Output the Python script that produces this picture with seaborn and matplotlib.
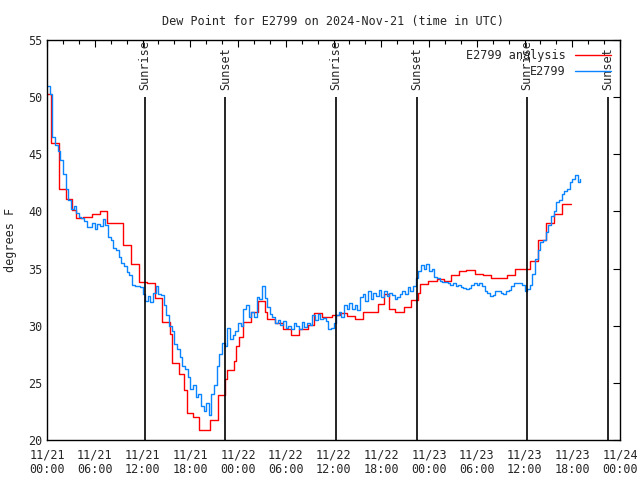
import pandas as pd
import matplotlib
matplotlib.use('Agg')
import matplotlib.pyplot as plt
import matplotlib.dates as mdates
import seaborn as sns

# Observed dew point (deg F), one reading every 20 minutes from 2024-11-21 00:00 UTC
obs_vals = [
    51.0, 50.3, 46.5, 45.8, 45.3, 44.5, 43.3, 42.0, 41.0, 40.2, 40.5, 39.9, 39.5, 39.4, 39.2,
    38.6, 38.6, 39.0, 38.5, 38.9, 38.7, 39.3, 38.8, 37.8, 37.5, 36.8, 36.6, 36.0, 35.5, 35.2,
    34.7, 34.4, 33.6, 33.5, 33.5, 33.4, 32.8, 32.2, 32.6, 32.1, 32.9,
    33.5, 32.8, 32.7, 31.8, 30.9, 30.0, 29.5, 28.4, 28.0, 27.3, 26.5, 26.2, 25.5, 24.5, 24.8,
    23.8, 24.0, 23.0, 22.5, 23.2, 22.2, 24.0, 24.8, 26.5, 27.5, 28.5, 28.2, 29.8, 28.8, 29.2,
    29.5, 30.2, 30.0, 31.5,
    31.8, 30.8, 31.2, 30.8, 32.5, 32.3, 33.5, 32.4, 31.6, 31.0, 30.8, 30.2, 30.5, 30.1, 30.4,
    29.8, 30.0, 29.7, 30.2, 30.0, 29.7, 30.3, 29.9, 30.2, 30.1, 30.9, 30.5, 31.0, 30.6, 30.7,
    30.4, 29.7, 29.8, 30.2, 30.9, 31.2, 30.8, 31.8, 31.5, 32.0,
    31.5, 31.8, 31.4, 32.5, 32.8, 32.2, 33.0, 32.3, 32.9, 32.6, 33.1, 32.5, 33.0, 32.6, 32.9,
    32.7, 32.3, 32.5, 32.8, 33.0, 32.8, 33.4, 33.0, 33.5, 34.2, 34.8, 35.3, 35.0, 35.4, 34.8,
    35.0, 34.3, 34.2, 33.9, 33.8, 33.8, 33.7,
    33.6, 33.7, 33.5, 33.6, 33.4, 33.3, 33.2, 33.3, 33.6, 33.7, 33.6, 33.7, 33.5, 33.0, 32.9,
    32.6, 32.7, 33.0, 33.0, 32.9, 32.8, 33.0, 33.1, 33.5, 33.7, 33.7, 33.7, 33.6, 33.0, 33.2,
    33.6,
    34.5, 35.8, 36.6, 37.3, 37.5, 38.2, 38.8, 39.6, 40.0, 40.8, 41.0, 41.5, 41.8, 42.0, 42.6,
    42.8, 43.2, 42.6, 42.8,
]

# Analysis (hours since start of step, value held until next step)
ana_hours = [0.0, 0.55, 1.55, 2.45, 3.2, 3.6, 4.57, 5.6, 6.66, 7.58, 9.6, 10.6, 11.6, 12.6,
             13.57, 14.5, 15.5, 15.7, 16.6, 17.25, 17.55, 18.4, 19.06, 20.5, 21.5, 22.4, 22.6,
             23.5, 23.8, 24.1, 24.6, 25.6, 26.55, 27.4, 27.7, 28.65, 29.6, 30.66, 31.7, 32.8,
             33.55, 34.6, 35.8, 36.8, 37.7, 38.7, 39.7, 41.6, 42.3, 43.0, 43.7, 44.8, 45.7,
             46.6, 46.9, 47.9, 49.0, 49.9, 50.8, 51.8, 52.7, 53.8, 54.8, 55.8, 57.8, 58.8,
             59.85, 60.7, 61.7, 62.7, 63.7, 64.75, 65.8]
ana_vals = [50.3, 46.0, 42.0, 41.1, 40.1, 39.4, 39.5, 39.8, 40.0, 39.0, 37.1, 35.4, 33.8, 33.7,
            32.4, 30.3, 29.3, 26.7, 25.8, 24.4, 22.4, 22.0, 20.9, 21.75, 23.9, 25.3, 26.1,
            26.9, 28.2, 29.0, 30.3, 31.2, 32.2, 31.2, 30.6, 30.2, 29.7, 29.2, 29.7, 30.1,
            31.1, 30.8, 30.9, 31.1, 30.85, 30.6, 31.2, 31.9, 32.75, 31.5, 31.2, 31.6, 32.25,
            32.9, 33.65, 33.9, 34.05, 33.9, 34.4, 34.8, 34.9, 34.5, 34.4, 34.15, 34.4, 34.96,
            35.0, 35.66, 37.5, 39.0, 39.8, 40.65, 40.65]

sunrise_hours = [12.3, 36.3, 60.3]
sunset_hours = [22.4, 46.5, 70.5]

start = pd.Timestamp('2024-11-21 00:00')
obs = pd.DataFrame({'time': pd.date_range(start, periods=len(obs_vals), freq='20min'),
                    'dewpt': obs_vals})
ana = pd.DataFrame({'time': start + pd.to_timedelta(ana_hours, unit='h'),
                    'dewpt': ana_vals})

sns.set_style('white')
plt.rcParams['font.family'] = ['DejaVu Sans Mono']
plt.rcParams['font.size'] = 8.5

fig, ax = plt.subplots(figsize=(6.4, 4.8), dpi=100)
fig.subplots_adjust(left=47/640, right=620/640, top=1-40/480, bottom=1-440/480)

sns.lineplot(data=ana, x='time', y='dewpt', drawstyle='steps-post', color='#ff0000',
             lw=1.0, label='E2799 analysis', estimator=None, ax=ax)
sns.lineplot(data=obs, x='time', y='dewpt', drawstyle='steps-post', color='#0a84ff',
             lw=1.0, label='E2799', estimator=None, ax=ax)

for h in sunrise_hours + sunset_hours:
    t = start + pd.Timedelta(hours=h)
    ax.vlines(t, 20, 50, color='black', lw=1.2)
    ax.text(t, 50.6, 'Sunrise' if h in sunrise_hours else 'Sunset', rotation=90,
            ha='center', va='bottom', fontsize=8.5)

ax.set_xlim(start, start + pd.Timedelta(hours=72))
ax.set_ylim(20, 55)
ax.set_yticks(range(20, 56, 5))
ax.xaxis.set_major_locator(mdates.HourLocator(byhour=[0, 6, 12, 18]))
ax.xaxis.set_minor_locator(mdates.HourLocator(byhour=range(0, 24, 2)))
ax.xaxis.set_major_formatter(mdates.DateFormatter('%m/%d\n%H:%M'))
ax.tick_params(which='both', direction='in', top=True, right=True, color='black')
ax.tick_params(which='major', length=5, width=0.8)
ax.tick_params(which='minor', length=3, width=0.8)
ax.tick_params(axis='x', which='major', pad=6)
for s in ax.spines.values():
    s.set_color('black')
    s.set_linewidth(1.0)

ax.set_title('Dew Point for E2799 on 2024-Nov-21 (time in UTC)', pad=11, fontsize=8.5)
ax.set_xlabel('')
ax.set_ylabel('degrees F')
ax.yaxis.set_label_coords(-0.052, 0.5)

ax.legend(loc='upper right', frameon=False, markerfirst=False, handlelength=3.0,
          borderaxespad=0.4, labelspacing=0.2, fontsize=8.5)

plt.savefig('out.png', dpi=100)
